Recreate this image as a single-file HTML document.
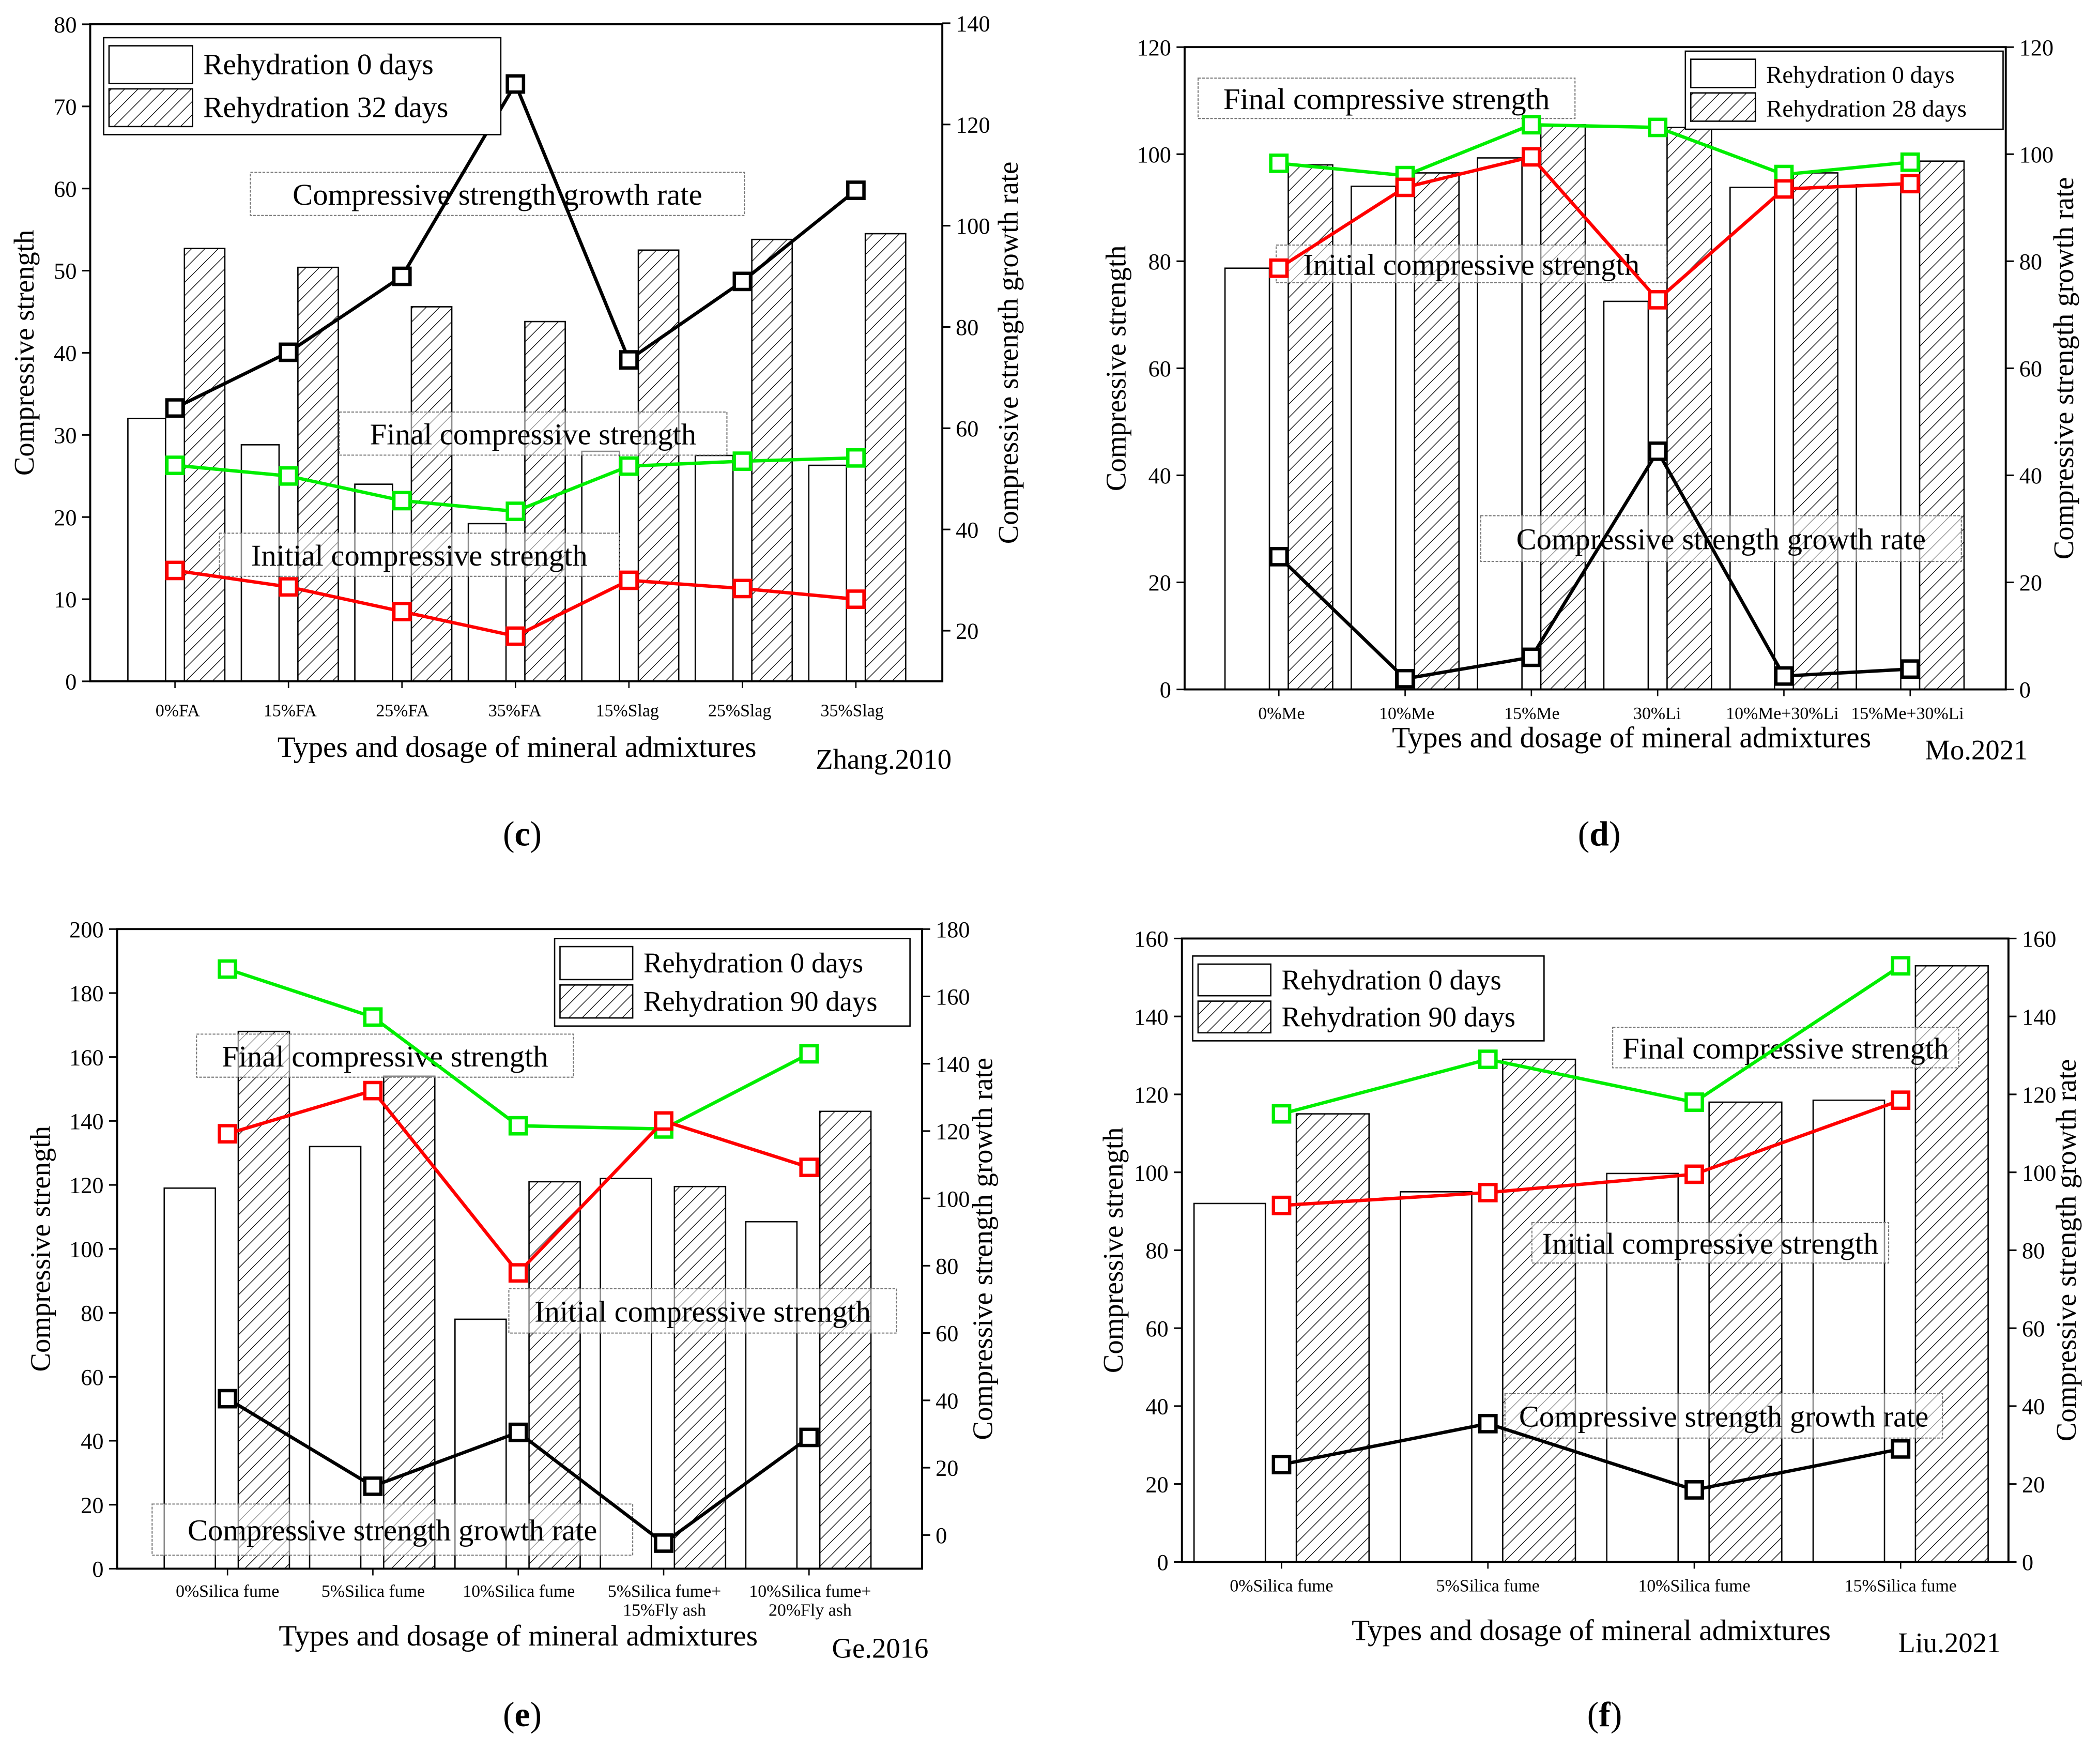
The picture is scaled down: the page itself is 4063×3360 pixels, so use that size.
<!DOCTYPE html>
<html><head><meta charset="utf-8">
<style>
html,body{margin:0;padding:0;background:#fff;}
svg{display:block;font-family:"Liberation Serif",serif;}
</style></head>
<body>
<svg id="fig" width="4063" height="3360" viewBox="0 0 1560 1290" preserveAspectRatio="none" xmlns="http://www.w3.org/2000/svg">
<defs>
<pattern id="hatch" patternUnits="userSpaceOnUse" width="7" height="7" patternTransform="rotate(45)">
<rect width="7" height="7" fill="#fff"/><line x1="0" y1="0" x2="0" y2="7" stroke="#000" stroke-width="1"/>
</pattern>
</defs>
</svg>
<script>
// ---- data: panel c (Zhang.2010)
const cCats = ["0%FA","15%FA","25%FA","35%FA","15%Slag","25%Slag","35%Slag"];
const cInit = [32,28.8,24,19.2,28,27.5,26.3];
const cFinal = [52.7,50.4,45.6,43.8,52.5,53.8,54.5];
const cGreen = [26.3,25,22,20.7,26.2,26.8,27.2];
const cRed = [13.5,11.5,8.5,5.5,12.3,11.3,10];
const cGrowth = [64,75,90,128,73.5,89,107];
// ---- data: panel d (Mo.2021)
const dCats = ["0%Me","10%Me","15%Me","30%Li","10%Me+30%Li","15%Me+30%Li"];
const dInit = [78.7,94,99.3,72.5,93.8,94.3];
const dFinal = [98,96.5,105.5,105,96.5,98.7];
const dGreen = [98.3,96,105.5,105,96.2,98.5];
const dRed = [78.7,93.8,99.5,72.8,93.5,94.5];
const dGrowth = [24.8,2,6,44.5,2.5,3.8];
// ---- data: panel e (Ge.2016)
const eCats = [["0%Silica fume"],["5%Silica fume"],["10%Silica fume"],["5%Silica fume+","15%Fly ash"],["10%Silica fume+","20%Fly ash"]];
const eInit = [119,132,78,122,108.5];
const eFinal = [168,154,121,119.5,143];
const eGreen = [187.5,172.5,138.5,137.5,161];
const eRed = [136,149.5,92.5,140,125.5];
const eGrowth = [40.5,14.5,30.5,-2.4,29];
// ---- data: panel f (Liu.2021)
const fCats = ["0%Silica fume","5%Silica fume","10%Silica fume","15%Silica fume"];
const fInit = [92,95,99.7,118.5];
const fFinal = [115,129,118,153];
const fGreen = [115,129,118,153];
const fRed = [91.5,94.8,99.5,118.5];
const fGrowth = [25,35.5,18.5,29];
// tick values
const cLTicks=[0,10,20,30,40,50,60,70,80], cRTicks=[20,40,60,80,100,120,140];
const dLTicks=[0,20,40,60,80,100,120], dRTicks=[0,20,40,60,80,100,120];
const eLTicks=[0,20,40,60,80,100,120,140,160,180,200], eRTicks=[0,20,40,60,80,100,120,140,160,180];
const fLTicks=[0,20,40,60,80,100,120,140,160], fRTicks=[0,20,40,60,80,100,120,140,160];

const NS="http://www.w3.org/2000/svg";
const svg=document.getElementById('fig');
function mk(tag,attrs,parent,txt){const e=document.createElementNS(NS,tag);for(const k in attrs)e.setAttribute(k,attrs[k]);if(txt!==undefined)e.textContent=txt;(parent||svg).appendChild(e);return e;}

function panel(p){
  const g=mk('g',{});
  
  
  const yL=v=>p.b-(v-p.lMin)/(p.lMax-p.lMin)*(p.b-p.t);
  const yR=v=>p.b-(v-p.rMin)/(p.rMax-p.rMin)*(p.b-p.t);
  const xm=i=>p.x0+p.step*i;
  p.init.forEach((v,i)=>{
    const r=mk('rect',{x:xm(i)+p.wOff,y:yL(v),width:p.ww,height:p.b-yL(v),fill:'#fff',stroke:'#000','stroke-width':1},g);
    
    
  });
  p.fin.forEach((v,i)=>{
    const r=mk('rect',{x:xm(i)+p.hOff,y:yL(v),width:p.hw,height:p.b-yL(v),fill:'url(#hatch)',stroke:'#000','stroke-width':1},g);
    
    
  });
  p.notes.forEach(n=>{
    const bx=mk('rect',{x:n[1],y:n[2],width:n[3],height:n[4],fill:'#fff','fill-opacity':0.55,stroke:'#777','stroke-width':0.8,'stroke-dasharray':'2,1'},g);
    
    
    const t=mk('text',{x:n[1]+n[3]/2,y:n[2]+n[4]/2+8,'text-anchor':'middle','font-size':22.5},g,n[0]);
    
    
  });
  const series=[[p.green,'#00ee00',yL,'final-strength'],[p.red,'#ff0000',yL,'initial-strength'],[p.growth,'#000',yR,'growth-rate']];
  series.forEach(s=>{
    const pts=s[0].map((v,i)=>xm(i)+','+s[2](v)).join(' ');
    const l=mk('polyline',{points:pts,fill:'none',stroke:s[1],'stroke-width':2.5},g);
    
    
    s[0].forEach((v,i)=>{
      const m=mk('rect',{x:xm(i)-6,y:s[2](v)-6,width:12,height:12,fill:'#fff',stroke:s[1],'stroke-width':2.5},g);
      
      
    });
  });
  const fr=mk('rect',{x:p.l,y:p.t,width:p.r-p.l,height:p.b-p.t,fill:'none',stroke:'#000','stroke-width':1.5},g);
  
  
  p.lTicks.forEach(v=>{
    const y=yL(v);
    mk('line',{x1:p.l-6,x2:p.l,y1:y,y2:y,stroke:'#000','stroke-width':1.2},g);
    const t=mk('text',{x:p.l-10,y:y+6,'text-anchor':'end','font-size':17},g,v);
    
    
  });
  p.rTicks.forEach(v=>{
    const y=yR(v);
    mk('line',{x1:p.r,x2:p.r+6,y1:y,y2:y,stroke:'#000','stroke-width':1.2},g);
    const t=mk('text',{x:p.r+10,y:y+6,'text-anchor':'start','font-size':17},g,v);
    
    
  });
  p.cats.forEach((c,i)=>{
    const x=p.lx0+p.lstep*i;
    mk('line',{x1:xm(i),x2:xm(i),y1:p.b,y2:p.b+5,stroke:'#000','stroke-width':1},g);
    const lines=Array.isArray(c)?c:[c];
    lines.forEach((s,j)=>{
      const t=mk('text',{x:x,y:p.b+p.lOff+j*14,'text-anchor':'middle','font-size':13},g,s);
      
      
    });
  });
  const yt=mk('text',{x:0,y:0,'text-anchor':'middle','font-size':21,transform:`translate(${p.l-p.ylOff},${(p.t+p.b)/2}) rotate(-90)`},g,'Compressive strength');
  
  
  const rt=mk('text',{x:0,y:0,'text-anchor':'middle','font-size':21,transform:`translate(${p.r+p.yrOff},${(p.t+p.b)/2}) rotate(-90)`},g,'Compressive strength growth rate');
  
  
  const xt=mk('text',{x:p.xtx,y:p.xty,'text-anchor':'middle','font-size':22},g,'Types and dosage of mineral admixtures');
  
  
  const src=mk('text',{x:p.srcx,y:p.xty+9,'text-anchor':'start','font-size':21},g,p.src);
  
  
  const pl=mk('text',{x:p.tagx,y:p.tagy,'text-anchor':'middle','font-size':26},g);
  
  
  mk('tspan',{},pl,'(');mk('tspan',{'font-weight':'bold'},pl,p.id);mk('tspan',{},pl,')');
  const L=p.leg;
  const lg=mk('g',{},g);
  
  
  mk('rect',{x:L[0],y:L[1],width:L[2],height:L[3],fill:'#fff',stroke:'#000','stroke-width':1},lg);
  const rh=(L[3]-8)/2;
  [['#fff','Rehydration 0 days'],['url(#hatch)',p.legText]].forEach((e,j)=>{
    const yy=L[1]+4+j*rh;
    mk('rect',{x:L[0]+4,y:yy+2,width:L[4],height:rh-4,fill:e[0],stroke:'#000','stroke-width':1},lg);
    const t=mk('text',{x:L[0]+L[4]+12,y:yy+rh/2+7,'font-size':L[5]},lg,e[1]);
    
    
  });
}

panel({id:'c',l:67,r:700,t:18,b:506,lMin:0,lMax:80,rMin:10,rMax:139.8,x0:130,step:84.3,wOff:-35,ww:28,hOff:7,hw:30,
  init:cInit,fin:cFinal,green:cGreen,red:cRed,growth:cGrowth,lTicks:cLTicks,rTicks:cRTicks,cats:cCats,lx0:132,lstep:83.5,lOff:26,
  notes:[['Compressive strength growth rate',186,128,367,32],['Final compressive strength',252,306,288,32],['Initial compressive strength',163,396,297,32]],
  ylOff:42,yrOff:56,xtx:384,xty:562,srcx:606,src:'Zhang.2010',tagx:388,tagy:628,leg:[77,28,295,72,62,22],legText:'Rehydration 32 days'});
panel({id:'d',l:880,r:1490,t:35,b:512,lMin:0,lMax:120,rMin:0,rMax:120,x0:950,step:93.8,wOff:-40,ww:33,hOff:7,hw:33,
  init:dInit,fin:dFinal,green:dGreen,red:dRed,growth:dGrowth,lTicks:dLTicks,rTicks:dRTicks,cats:dCats,lx0:952,lstep:93,lOff:22,
  notes:[['Final compressive strength',890,58,280,30],['Initial compressive strength',948,182,290,28],['Compressive strength growth rate',1100,383,357,34]],
  ylOff:44,yrOff:50,xtx:1212,xty:555,srcx:1430,src:'Mo.2021',tagx:1188,tagy:628,leg:[1252,38,236,58,48,18],legText:'Rehydration 28 days'});
panel({id:'e',l:87,r:685,t:690,b:1165,lMin:0,lMax:200,rMin:-10,rMax:180,x0:169,step:108,wOff:-47,ww:38,hOff:8,hw:38,
  init:eInit,fin:eFinal,green:eGreen,red:eRed,growth:eGrowth,lTicks:eLTicks,rTicks:eRTicks,cats:eCats,lx0:169,lstep:108.2,lOff:21,
  notes:[['Final compressive strength',146,768,280,32],['Initial compressive strength',378,957,288,33],['Compressive strength growth rate',113,1117,357,38]],
  ylOff:50,yrOff:52,xtx:385,xty:1222,srcx:618,src:'Ge.2016',tagx:388,tagy:1282,leg:[412,697,264,65,54,21],legText:'Rehydration 90 days'});
panel({id:'f',l:878,r:1492,t:697,b:1160,lMin:0,lMax:160,rMin:0,rMax:160,x0:952,step:153.3,wOff:-65,ww:53,hOff:11,hw:54,
  init:fInit,fin:fFinal,green:fGreen,red:fRed,growth:fGrowth,lTicks:fLTicks,rTicks:fRTicks,cats:fCats,lx0:952,lstep:153.3,lOff:22,
  notes:[['Final compressive strength',1198,763,257,30],['Initial compressive strength',1138,908,265,30],['Compressive strength growth rate',1118,1035,325,33]],
  ylOff:44,yrOff:50,xtx:1182,xty:1218,srcx:1410,src:'Liu.2021',tagx:1192,tagy:1282,leg:[886,710,261,63,54,21],legText:'Rehydration 90 days'});
</script>
</body></html>
